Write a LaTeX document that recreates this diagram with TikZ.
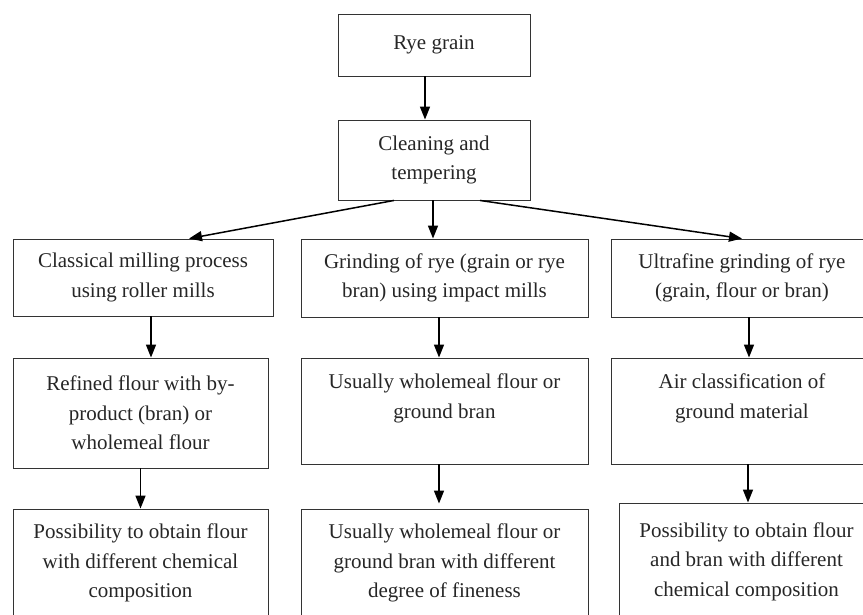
\documentclass[tikz,border=0pt]{standalone}
\usepackage{fontspec}
\setmainfont{Liberation Serif}
\usetikzlibrary{arrows.meta}

\begin{document}
\begin{tikzpicture}[x=1pt,y=-1pt]
    \tikzstyle{box} = [draw=black!80, line width=0.9pt, align=center, inner sep=0pt, text=black!85, font=\fontsize{21}{29.5}\selectfont]
    \tikzstyle{arrow} = [-{Triangle[width=10pt,length=13pt]}, line width=1.5pt]
    \clip (0,0) rectangle (863,614);
    % Draw the two boxes at the top
    \node[box, minimum width=192pt, minimum height=62pt] (rye) at (434,45) {Rye grain};
    \node[box, minimum width=192pt, minimum height=80pt] (clean) at (434,160) {Cleaning and\\tempering};
    % Draw the three process boxes
    \node[box, minimum width=260pt, minimum height=77pt] (mill) at (143,277.5) {Classical milling process\\using roller mills};
    \node[box, minimum width=287pt, minimum height=78pt] (impact) at (444.5,278) {Grinding of rye (grain or rye\\bran) using impact mills};
    \node[box, minimum width=262pt, minimum height=78pt] (ultra) at (742,278) {Ultrafine grinding of rye\\(grain, flour or bran)};
    % Draw the boxes for the intermediate products
    \node[box, minimum width=255pt, minimum height=110pt] (refined) at (140.5,413) {Refined flour with by-\\product (bran) or\\wholemeal flour};
    \node[box, minimum width=287pt, minimum height=106pt] (whole) at (444.5,411) {Usually wholemeal flour or\\ground bran\\\mbox{}};
    \node[box, minimum width=262pt, minimum height=106pt] (air) at (742,411) {Air classification of\\ground material\\\mbox{}};
    % Draw the boxes for the final products
    \node[box, minimum width=255pt, minimum height=108pt] (chem) at (140.5,563) {Possibility to obtain flour\\with different chemical\\composition};
    \node[box, minimum width=287pt, minimum height=108pt] (fine) at (444.5,563) {Usually wholemeal flour or\\ground bran with different\\degree of fineness};
    \node[box, minimum width=255pt, minimum height=117pt] (bran) at (746.5,561.5) {Possibility to obtain flour\\and bran with different\\chemical composition};
    % Draw the arrows from the top down
    \draw[arrow] ([xshift=-9]rye.south) -- ([xshift=-9]clean.north);
    \draw[arrow] ([xshift=-40]clean.south) -- ([xshift=46]mill.north);
    \draw[arrow] ([xshift=-1]clean.south) -- ([xshift=-1]clean.south |- impact.north);
    \draw[arrow] ([xshift=46]clean.south) -- (ultra.north);
    % Draw the arrows within each column
    \draw[arrow] ([xshift=8]mill.south) -- ([xshift=8]mill.south |- refined.north);
    \draw[arrow] ([xshift=-5.5]impact.south) -- ([xshift=-5.5]impact.south |- whole.north);
    \draw[arrow] ([xshift=7]ultra.south) -- ([xshift=7]ultra.south |- air.north);
    \draw[arrow] (refined.south) -- (refined.south |- chem.north);
    \draw[arrow, shorten >=5pt] ([xshift=-5.5]whole.south) -- ([xshift=-5.5]whole.south |- fine.north);
    \draw[arrow] ([xshift=6]air.south) -- ([xshift=6]air.south |- bran.north);
\end{tikzpicture}
\end{document}
